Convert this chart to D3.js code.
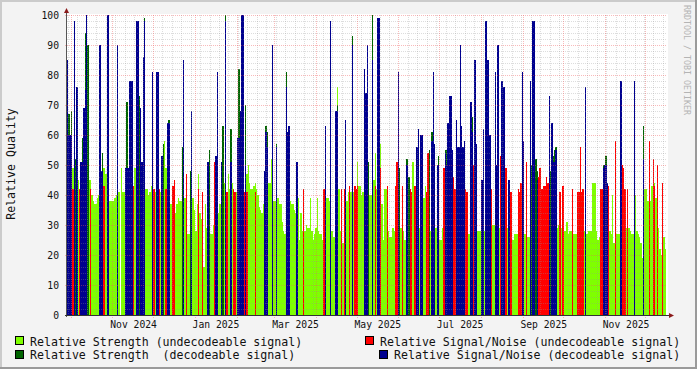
<!DOCTYPE html>
<html><head><meta charset="utf-8">
<script src="https://cdn.jsdelivr.net/npm/d3@7"></script>
<style>
html,body{margin:0;padding:0;background:#f3f3f3;}
svg{display:block;}
</style></head><body>
<svg id="c" width="697" height="369"></svg>
<script>
const _ = null;
// first data day: 2024-09-27, one value per day
const firstDay = "2024-09-27";
// Relative Strength (undecodeable signal), daily
const strengthUndec = [
_,_,_,_,_,49,_,45,_,45,
42,_,_,_,_,_,_,45,45,40,
38,37,37,39,40,_,40,_,49,47,
47,_,38,38,38,38,39,40,_,41,
_,49,41,41,_,_,_,_,_,_,
43,49,_,_,42,_,_,_,_,42,
42,40,41,43,_,41,41,_,_,41,
41,_,_,58,49,_,_,37,37,37,
_,34,37,39,38,38,_,_,39,_,
27,27,_,_,39,35,28,37,47,34,
32,16,16,37,29,_,_,27,27,30,
_,_,_,34,37,_,_,44,_,_,
47,42,_,44,_,31,41,_,_,_,
_,_,_,_,47,50,44,42,42,43,
44,42,40,36,35,34,37,_,_,_,
44,44,52,_,38,38,_,39,37,37,
31,28,27,_,_,_,38,37,37,35,
34,_,39,25,34,28,28,28,30,29,
29,39,28,25,27,29,39,28,27,27,
25,24,_,39,39,38,_,28,26,26,
_,76,42,28,27,24,28,_,38,41,
41,41,_,41,43,_,51,43,43,40,
41,_,_,_,50,40,40,_,45,54,
42,_,_,57,37,25,42,42,42,28,
26,26,29,28,27,27,_,_,29,28,
28,25,_,_,_,_,_,51,_,40,
_,_,29,_,_,39,43,39,_,_,
28,_,_,_,29,_,_,25,25,29,
_,_,_,_,_,_,43,43,_,_,
_,_,_,_,_,_,_,28,27,27,
_,_,_,_,_,28,28,28,_,_,
28,_,_,_,_,30,30,30,_,_,
_,29,_,_,_,_,29,29,_,_,
_,25,27,27,27,_,_,_,_,_,
27,_,26,26,_,_,_,_,_,_,
_,_,_,_,_,_,_,_,_,_,
_,_,_,_,29,30,_,29,29,28,
28,31,27,28,28,28,27,27,27,_,
_,_,_,28,28,_,27,28,28,28,
44,44,44,28,25,26,28,_,_,_,
_,_,29,28,27,40,24,_,27,27,
27,_,_,27,_,29,_,29,28,27,
27,_,40,28,27,26,24,19,_,42,
42,38,_,38,43,43,44,39,39,29,
22,20,25,26,22
];
// Relative Signal/Noise (undecodeable signal): [day, value]
const snrUndec = [[5,42],[10,42],[18,42],[28,43],[50,43],[65,42],[69,42],[74,42],[79,43],[80,45],[89,47],[98,42],[101,41],[110,51],[119,41],[124,42],[125,41],[132,41],[134,41],[140,41],[176,42],[191,42],[204,42],[206,42],[210,43],[214,43],[215,42],[216,43],[229,43],[233,49],[238,43],[244,43],[245,51],[249,43],[255,42],[256,41],[258,43],[259,43],[267,41],[268,54],[280,49],[287,46],[288,42],[296,42],[297,41],[302,50],[315,42],[322,53],[326,49],[329,41],[330,41],[335,42],[336,41],[337,44],[341,51],[350,46],[351,49],[352,42],[353,42],[354,43],[355,43],[356,46],[357,44],[366,41],[368,43],[375,42],[379,41],[380,41],[381,56],[382,41],[383,42],[396,42],[397,42],[402,43],[407,58],[412,50],[413,49],[414,42],[416,42],[432,58],[435,52],[436,43],[438,50],[442,44]];
// Relative Strength (decodeable signal): [day, value]
const strengthDec = [[1,70],[2,67],[4,68],[7,52],[12,59],[14,94],[16,90],[27,54],[45,71],[54,73],[58,99],[72,57],[76,65],[86,56],[92,48],[106,55],[111,50],[116,63],[118,100],[122,62],[128,82],[133,70],[148,63],[149,61],[156,57],[163,81],[201,70],[212,93],[221,74],[222,60],[223,67],[224,51],[227,100],[246,49],[247,49],[252,52],[253,52],[254,46],[269,55],[271,61],[273,50],[276,53],[281,55],[282,55],[283,50],[284,55],[289,58],[292,59],[293,57],[300,54],[301,66],[304,44],[308,45],[312,72],[318,50],[323,46],[324,68],[328,45],[339,50],[344,48],[345,50],[347,50],[348,52],[349,48],[359,48],[361,53],[362,55],[363,56],[398,50],[400,53],[428,63]];
// Relative Signal/Noise (decodeable signal): [day, value]
const snrDec = [[0,85],[1,85],[2,60],[3,60],[4,60],[6,98],[8,76],[11,51],[12,51],[13,69],[14,75],[15,100],[25,90],[26,48],[27,48],[31,100],[38,90],[44,49],[45,49],[46,49],[47,78],[48,78],[49,78],[52,98],[53,98],[55,69],[56,51],[57,86],[58,98],[64,81],[67,81],[68,81],[71,53],[75,64],[76,64],[87,85],[93,68],[105,51],[111,53],[112,81],[115,51],[118,98],[122,51],[127,59],[128,59],[129,68],[130,100],[131,100],[133,50],[147,48],[148,61],[149,56],[153,90],[156,56],[163,76],[164,61],[165,63],[171,51],[192,63],[196,98],[200,68],[201,68],[207,65],[212,90],[221,82],[222,74],[223,90],[227,85],[231,99],[232,99],[246,81],[252,50],[253,50],[260,56],[261,62],[263,60],[264,60],[271,58],[272,81],[273,57],[275,50],[276,50],[281,54],[282,50],[283,64],[284,73],[285,73],[286,55],[289,65],[290,56],[291,56],[292,90],[293,63],[294,56],[295,58],[300,71],[301,61],[303,85],[304,57],[308,45],[309,62],[311,98],[312,85],[313,85],[314,60],[318,81],[319,50],[320,90],[323,78],[324,76],[325,76],[328,45],[338,81],[339,58],[344,78],[346,98],[347,98],[349,45],[358,73],[360,64],[361,51],[362,51],[363,55],[385,76],[398,49],[399,50],[400,50],[401,44],[411,78],[421,78],[428,52]];

const yTicks = [0,10,20,30,40,50,60,70,80,90,100];
const xLabelMonths = ["2024-11","2025-01","2025-03","2025-05","2025-07","2025-09","2025-11"];
const xLabels = ["Nov 2024","Jan 2025","Mar 2025","May 2025","Jul 2025","Sep 2025","Nov 2025"];
const legendNames = ["Relative Strength (undecodeable signal)","Relative Signal/Noise (undecodeable signal)","Relative Strength  (decodeable signal)","Relative Signal/Noise (decodeable signal)"];
const yTitle = "Relative Quality";
const watermark = "RRDTOOL / TOBI OETIKER";

const colors = {lg:"#7fff00", red:"#ff0000", dg:"#006400", blue:"#00008f"};
const FONT = "'DejaVu Sans Mono', monospace";
const W=697,H=369,L=67,R=667,T=15,B=315;
const svg = d3.select("#c");

const day0 = d3.utcParse("%Y-%m-%d")(firstDay);
const xStart = d3.utcDay.offset(day0,1);
const xEnd = new Date(+xStart + 444.7*864e5);
const x = d3.scaleUtc().domain([xStart,xEnd]).range([L,R]);
const y = d3.scaleLinear().domain([0,100]).range([B,T]);
const dayX = i => Math.round(x(d3.utcDay.offset(day0,i)));

// background + frame
svg.append("rect").attr("width",W).attr("height",H).attr("fill","#f3f3f3");
svg.append("rect").attr("x",0).attr("y",0).attr("width",W).attr("height",2).attr("fill","#cbcbcb");
svg.append("rect").attr("x",0).attr("y",0).attr("width",2).attr("height",H).attr("fill","#cbcbcb");
svg.append("rect").attr("x",0).attr("y",H-2).attr("width",W).attr("height",2).attr("fill","#9a9a9a");
svg.append("rect").attr("x",W-2).attr("y",0).attr("width",2).attr("height",H).attr("fill","#9a9a9a");
// canvas
svg.append("rect").attr("x",L).attr("y",T-1).attr("width",R-L+1).attr("height",B-T+1).attr("fill","#fff");

svg.append("defs").append("clipPath").attr("id","clip").append("rect")
  .attr("x",L).attr("y",T-1).attr("width",R-L).attr("height",B-T+1);
const plot = svg.append("g").attr("clip-path","url(#clip)").attr("shape-rendering","crispEdges");

function drawBars(data, color){
  plot.append("g").selectAll("rect").data(data).join("rect")
    .attr("x", d=>dayX(d[0]))
    .attr("width", d=>Math.max(1, dayX(d[0]+1)-dayX(d[0])))
    .attr("y", d=>Math.round(y(d[1])))
    .attr("height", d=>B-Math.round(y(d[1])))
    .attr("fill", color);
}
drawBars(strengthUndec.map((v,i)=>[i,v]).filter(d=>d[1]!=null), colors.lg);
drawBars(snrUndec, colors.red);
drawBars(strengthDec, colors.dg);
drawBars(snrDec, colors.blue);

// grid on top
const grid = svg.append("g").attr("shape-rendering","crispEdges");
const minorC = "rgba(150,150,150,0.32)", majorC = "rgba(240,90,90,0.42)";
const minorY = d3.range(2,100,2).filter(v=>v%10!==0);
grid.selectAll(".hm").data(minorY).join("line")
  .attr("x1",L).attr("x2",R).attr("y1",d=>Math.round(y(d))+0.5).attr("y2",d=>Math.round(y(d))+0.5)
  .attr("stroke",minorC).attr("stroke-dasharray","1,1");
const months = d3.utcMonth.range(xStart,xEnd);
const weeks = d3.utcSunday.range(xStart,xEnd).filter(w=>w.getUTCDate()!==1);
grid.selectAll(".vm").data(weeks).join("line")
  .attr("x1",d=>Math.floor(x(d))+0.5).attr("x2",d=>Math.floor(x(d))+0.5).attr("y1",T).attr("y2",B+2)
  .attr("stroke",minorC).attr("stroke-dasharray","1,1");
grid.selectAll(".hM").data(yTicks.filter(v=>v>0)).join("line")
  .attr("x1",L-2).attr("x2",R).attr("y1",d=>Math.round(y(d))+0.5).attr("y2",d=>Math.round(y(d))+0.5)
  .attr("stroke",majorC).attr("stroke-dasharray","1,1");
grid.selectAll(".vM").data(months).join("line")
  .attr("x1",d=>Math.floor(x(d))+0.5).attr("x2",d=>Math.floor(x(d))+0.5).attr("y1",T).attr("y2",B+3)
  .attr("stroke",majorC).attr("stroke-dasharray","1,1");

// axes lines + arrows
svg.append("line").attr("x1",L-0.5).attr("x2",L-0.5).attr("y1",B+2).attr("y2",11).attr("stroke","#555").attr("shape-rendering","crispEdges");
svg.append("line").attr("x1",L-2).attr("x2",R+3).attr("y1",B+0.5).attr("y2",B+0.5).attr("stroke","#333").attr("shape-rendering","crispEdges");
svg.append("path").attr("d",`M${L-3},${13}L${L+2},${13}L${L-0.5},${8}Z`).attr("fill","#8b1a1a");
svg.append("path").attr("d",`M${R+2},${B-2}L${R+2},${B+3}L${R+7},${B+0.5}Z`).attr("fill","#8b1a1a");

// y axis labels
const gy = svg.append("g").attr("transform",`translate(${L},0)`)
  .call(d3.axisLeft(y).tickValues(yTicks).tickSize(0).tickPadding(8));
gy.select(".domain").remove();
gy.attr("font-family",FONT).attr("font-size","9.7px");
gy.selectAll("text").attr("fill","#111");

// x axis labels (centered in the month)
const labelDates = xLabelMonths.map(m=>d3.utcDay.offset(d3.utcParse("%Y-%m")(m),15));
const gx = svg.append("g").attr("transform",`translate(0,${B})`)
  .call(d3.axisBottom(x).tickValues(labelDates).tickFormat((d,i)=>xLabels[i]).tickSize(0).tickPadding(6));
gx.select(".domain").remove();
gx.attr("font-family",FONT).attr("font-size","9.7px");
gx.selectAll("text").attr("fill","#111");

// y title
svg.append("text").attr("transform","translate(15,164) rotate(-90)").attr("text-anchor","middle")
  .attr("font-family",FONT).attr("font-size","11.6px").attr("fill","#111").text(yTitle);

// watermark
svg.append("text").attr("transform","translate(684,5) rotate(90)").attr("text-anchor","start")
  .attr("font-family",FONT).attr("font-size","8.3px").attr("fill","#b4b4b4").text(watermark);

// legend
const leg = [
  {sx:15, tx:30, by:345.5, c:colors.lg, t:legendNames[0]},
  {sx:365, tx:380, by:345.5, c:colors.red, t:legendNames[1]},
  {sx:15, tx:30, by:359, c:colors.dg, t:legendNames[2]},
  {sx:379, tx:394, by:359, c:colors.blue, t:legendNames[3]}
];
const lg = svg.append("g");
leg.forEach(d=>{
  lg.append("rect").attr("x",d.sx+0.5).attr("y",d.by-9).attr("width",8).attr("height",8)
    .attr("fill",d.c).attr("stroke","#000").attr("stroke-width",1).attr("shape-rendering","crispEdges");
  lg.append("text").attr("x",d.tx).attr("y",d.by).attr("font-family",FONT).attr("font-size","11.6px")
    .attr("fill","#111").attr("xml:space","preserve").style("white-space","pre").text(d.t);
});
</script>
</body></html>
